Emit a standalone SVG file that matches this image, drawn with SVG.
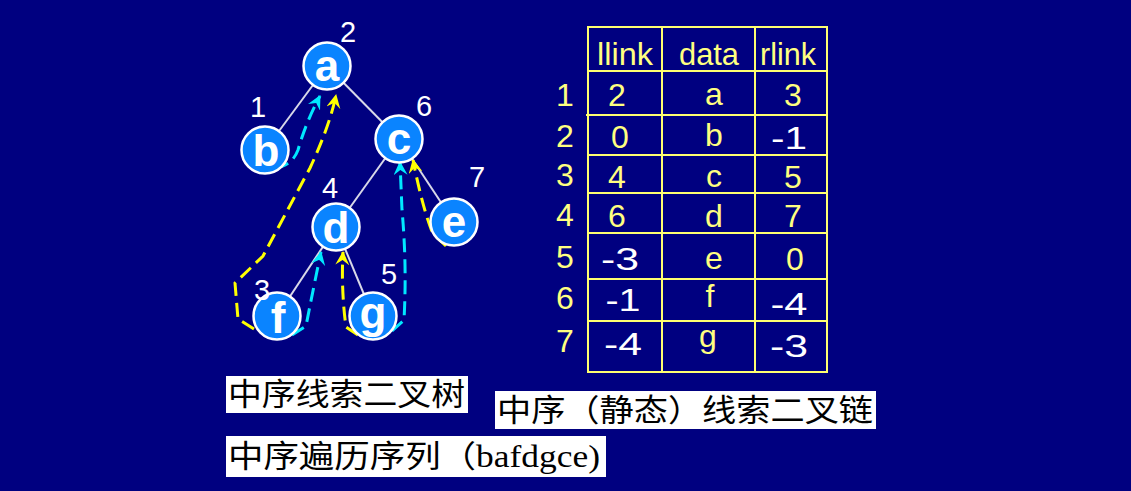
<svg xmlns="http://www.w3.org/2000/svg" width="1131" height="491" viewBox="0 0 1131 491">
<style>
.edge{stroke:#d8d8e8;stroke-width:2;fill:none}
.node{fill:#0a84ff;stroke:#ffffff;stroke-width:2.5}
.nl{font-family:"Liberation Sans",Arial,sans-serif;font-weight:bold;font-size:44px;fill:#ffffff;text-anchor:middle}
.num{font-family:"Liberation Sans",Arial,sans-serif;font-size:29px;fill:#ffffff;text-anchor:middle}
.ty{stroke:#ffff00;stroke-width:3;fill:none;stroke-dasharray:14 7}
.tc{stroke:#00e8ff;stroke-width:3;fill:none;stroke-dasharray:14 7}
.tl{stroke:#ffff70;stroke-width:2;fill:none}
.tt{font-family:"Liberation Sans",Arial,sans-serif;font-size:32px;fill:#ffff80;text-anchor:middle}
.tw{font-family:"Liberation Sans",Arial,sans-serif;font-size:32px;fill:#ffffff;text-anchor:middle}
.box{fill:#ffffff}
.cap{font-family:"Liberation Serif","Noto Sans CJK SC",serif;font-size:31px;fill:#000000}
</style>
<defs>
<marker id="ay" markerUnits="userSpaceOnUse" markerWidth="18" markerHeight="16" refX="13" refY="7" orient="auto">
<path d="M0,0 L14,7 L0,14 L5,7 Z" fill="#ffff00"/>
</marker>
<marker id="ac" markerUnits="userSpaceOnUse" markerWidth="18" markerHeight="16" refX="13" refY="7" orient="auto">
<path d="M0,0 L14,7 L0,14 L5,7 Z" fill="#00e8ff"/>
</marker>
</defs>
<rect x="0" y="0" width="1131" height="491" fill="#000080"/>

<g id="connectors">
<line class="edge" x1="327" y1="66" x2="265" y2="150"/>
<line class="edge" x1="327" y1="66" x2="399" y2="139"/>
<line class="edge" x1="399" y1="139" x2="336" y2="227"/>
<line class="edge" x1="399" y1="139" x2="454" y2="222"/>
<line class="edge" x1="336" y1="227" x2="277" y2="316"/>
<line class="edge" x1="336" y1="227" x2="373" y2="316"/>
<path class="tc" d="M275,168 Q292,166 298,150 Q306,122 320,96" marker-end="url(#ac)"/>
<path class="ty" d="M254,329 L238,319 L235,283 L263,256 Q285,215 310,168 Q330,125 336,95" marker-end="url(#ay)"/>
<path class="tc" d="M292,335 L306,326 Q313,290 321,252" marker-end="url(#ac)"/>
<path class="ty" d="M358,335 L346,327 Q341,290 343,252" marker-end="url(#ay)"/>
<path class="tc" d="M392,331 L404,320 Q407,265 402,210 L400,162" marker-end="url(#ac)"/>
<path class="ty" d="M446,246 L433,234 Q423,210 413,160" marker-end="url(#ay)"/>
</g>

<g id="node-a"><circle class="node" cx="327" cy="66" r="23.5"/><text class="nl" x="327" y="81">a</text><text class="num" x="348" y="42">2</text></g>
<g id="node-b"><circle class="node" cx="265" cy="150" r="23.5"/><text class="nl" x="266" y="166">b</text><text class="num" x="258" y="117">1</text></g>
<g id="node-c"><circle class="node" cx="399" cy="139" r="23.5"/><text class="nl" x="399" y="154">c</text><text class="num" x="424" y="116">6</text></g>
<g id="node-d"><circle class="node" cx="336" cy="227" r="23.5"/><text class="nl" x="336" y="243">d</text><text class="num" x="330" y="198">4</text></g>
<g id="node-e"><circle class="node" cx="454" cy="222" r="23.5"/><text class="nl" x="454" y="237">e</text><text class="num" x="477" y="187">7</text></g>
<g id="node-f"><circle class="node" cx="277" cy="316" r="23.5"/><text class="nl" x="278" y="333">f</text><text class="num" x="262" y="300">3</text></g>
<g id="node-g"><circle class="node" cx="373" cy="316" r="23.5"/><text class="nl" x="373" y="328">g</text><text class="num" x="389" y="284">5</text></g>

<g id="table">
<rect class="tl" x="588" y="27" width="239" height="345"/>
<line class="tl" x1="662" y1="27" x2="662" y2="372"/>
<line class="tl" x1="755" y1="27" x2="755" y2="372"/>
<line class="tl" x1="588" y1="71" x2="827" y2="71"/>
<line class="tl" x1="586" y1="115" x2="827" y2="115"/>
<line class="tl" x1="588" y1="155" x2="827" y2="155"/>
<line class="tl" x1="588" y1="193" x2="827" y2="193"/>
<line class="tl" x1="588" y1="233" x2="827" y2="233"/>
<line class="tl" x1="588" y1="279" x2="827" y2="279"/>
<line class="tl" x1="588" y1="321" x2="827" y2="321"/>
<text class="tt" x="625" y="65" textLength="56" lengthAdjust="spacingAndGlyphs">llink</text>
<text class="tt" x="709" y="65" textLength="60" lengthAdjust="spacingAndGlyphs">data</text>
<text class="tt" x="788" y="65" textLength="56" lengthAdjust="spacingAndGlyphs">rlink</text>
<text class="tt" x="565" y="106">1</text>
<text class="tt" x="565" y="147">2</text>
<text class="tt" x="565" y="186">3</text>
<text class="tt" x="565" y="226">4</text>
<text class="tt" x="565" y="268">5</text>
<text class="tt" x="565" y="309">6</text>
<text class="tt" x="565" y="352">7</text>
<text class="tt" x="617" y="106">2</text><text class="tt" x="714" y="105">a</text><text class="tt" x="793" y="106">3</text>
<text class="tt" x="620" y="148">0</text><text class="tt" x="714" y="146">b</text><text class="tw" x="789" y="149" textLength="36" lengthAdjust="spacingAndGlyphs">-1</text>
<text class="tt" x="617" y="188">4</text><text class="tt" x="714" y="187">c</text><text class="tt" x="793" y="188">5</text>
<text class="tt" x="617" y="227">6</text><text class="tt" x="714" y="227">d</text><text class="tt" x="793" y="227">7</text>
<text class="tw" x="620" y="270" textLength="38" lengthAdjust="spacingAndGlyphs">-3</text><text class="tt" x="714" y="269">e</text><text class="tt" x="795" y="270">0</text>
<text class="tw" x="623" y="311" textLength="35" lengthAdjust="spacingAndGlyphs">-1</text><text class="tt" x="710" y="307">f</text><text class="tw" x="789" y="315" textLength="37" lengthAdjust="spacingAndGlyphs">-4</text>
<text class="tw" x="623" y="355" textLength="38" lengthAdjust="spacingAndGlyphs">-4</text><text class="tt" x="708" y="347">g</text><text class="tw" x="789" y="357" textLength="38" lengthAdjust="spacingAndGlyphs">-3</text>
</g>

<g id="cap1"><rect class="box" x="226" y="376" width="242" height="37"/><text class="cap" x="228" y="405" textLength="237" lengthAdjust="spacingAndGlyphs">中序线索二叉树</text></g>
<g id="cap2"><rect class="box" x="495" y="391" width="381" height="38"/><text class="cap" x="497" y="421" textLength="376" lengthAdjust="spacingAndGlyphs">中序（静态）线索二叉链</text></g>
<g id="cap3"><rect class="box" x="226" y="436" width="380" height="41"/><text class="cap" x="228" y="467" textLength="372" lengthAdjust="spacingAndGlyphs">中序遍历序列（bafdgce)</text></g>
</svg>
